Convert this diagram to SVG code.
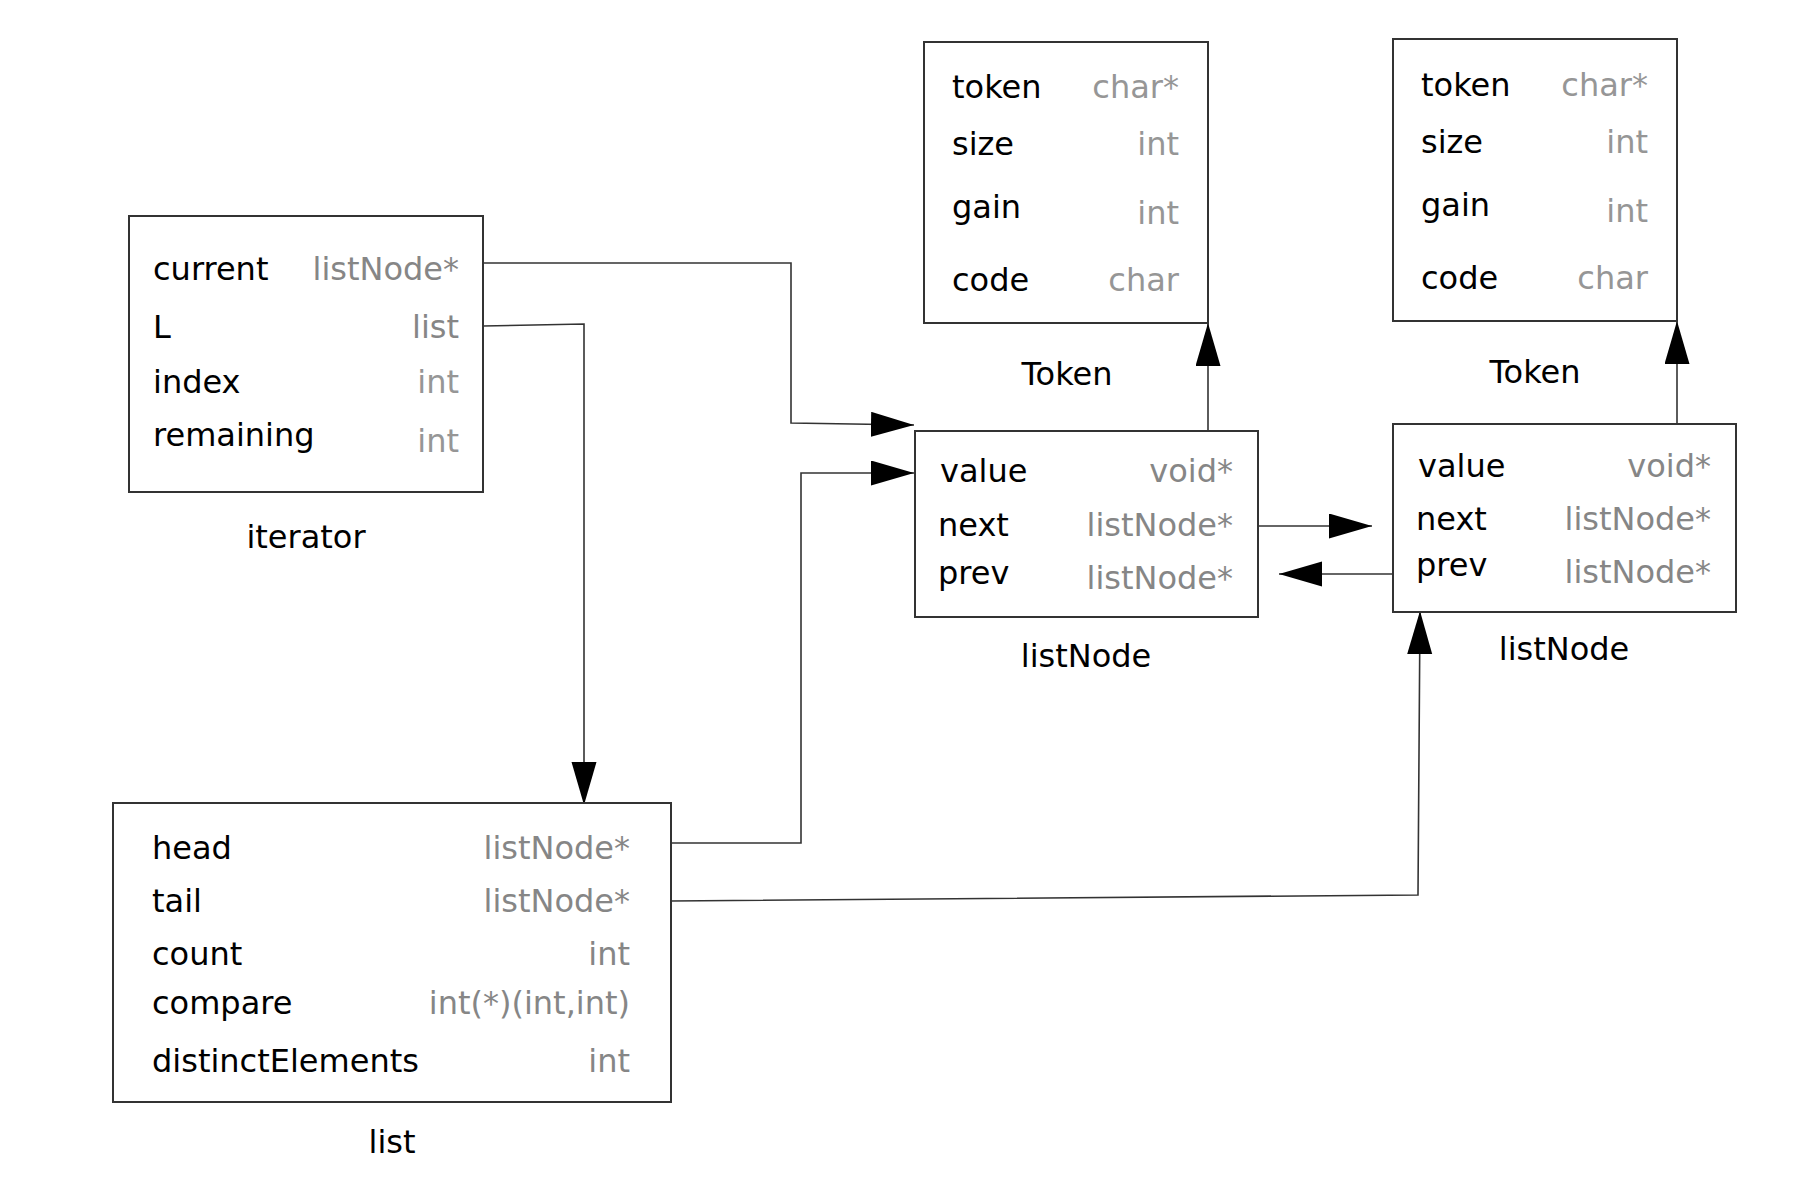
<svg xmlns="http://www.w3.org/2000/svg" width="1817" height="1177" viewBox="0 0 1817 1177">
<style>
text{font-family:"DejaVu Sans","Liberation Sans",sans-serif;font-size:32px}
.n{fill:#000}
.t{fill:#868686;text-anchor:end}
.tl{fill:#969696;text-anchor:end}
.lbl{fill:#000;text-anchor:middle}
.box{fill:#fff;stroke:#333;stroke-width:2}
.c{fill:none;stroke:#333;stroke-width:1.6}
</style>
<defs>
<marker id="ah" markerUnits="userSpaceOnUse" markerWidth="44" markerHeight="26" refX="43" refY="12.5" orient="auto">
<path d="M0,0 L43,12.5 L0,25 Z" fill="#000"/>
</marker>
</defs>
<rect width="1817" height="1177" fill="#fff"/>
<g id="connectors">
<path class="c" d="M483,263 H791 V423 L914,425" marker-end="url(#ah)"/>
<path class="c" d="M483,326 L584,324 V805" marker-end="url(#ah)"/>
<path class="c" d="M671,843 H801 V473 H914" marker-end="url(#ah)"/>
<path class="c" d="M671,901 L1418,895 L1420,611" marker-end="url(#ah)"/>
<path class="c" d="M1258,526 H1372" marker-end="url(#ah)"/>
<path class="c" d="M1393,574 H1279" marker-end="url(#ah)"/>
<path class="c" d="M1208,431 V323" marker-end="url(#ah)"/>
<path class="c" d="M1677,424 V321" marker-end="url(#ah)"/>
</g>
<g id="iterator">
<rect class="box" x="129" y="216" width="354" height="276"/>
<text class="n" x="153" y="280">current</text><text class="t" x="459" y="280">listNode*</text>
<text class="n" x="153" y="338">L</text><text class="t" x="459" y="338">list</text>
<text class="n" x="153" y="393">index</text><text class="tl" x="459" y="393">int</text>
<text class="n" x="153" y="446">remaining</text><text class="tl" x="459" y="452">int</text>
<text class="lbl" x="306" y="548">iterator</text>
</g>
<g id="token1">
<rect class="box" x="924" y="42" width="284" height="281"/>
<text class="n" x="952" y="98">token</text><text class="tl" x="1179" y="98">char*</text>
<text class="n" x="952" y="155">size</text><text class="tl" x="1179" y="155">int</text>
<text class="n" x="952" y="218">gain</text><text class="tl" x="1179" y="224">int</text>
<text class="n" x="952" y="291">code</text><text class="tl" x="1179" y="291">char</text>
<text class="lbl" x="1067" y="385">Token</text>
</g>
<g id="token2">
<rect class="box" x="1393" y="39" width="284" height="282"/>
<text class="n" x="1421" y="96">token</text><text class="tl" x="1648" y="96">char*</text>
<text class="n" x="1421" y="153">size</text><text class="tl" x="1648" y="153">int</text>
<text class="n" x="1421" y="216">gain</text><text class="tl" x="1648" y="222">int</text>
<text class="n" x="1421" y="289">code</text><text class="tl" x="1648" y="289">char</text>
<text class="lbl" x="1535" y="383">Token</text>
</g>
<g id="listNode1">
<rect class="box" x="915" y="431" width="343" height="186"/>
<text class="n" x="940" y="482">value</text><text class="t" x="1233" y="482">void*</text>
<text class="n" x="938" y="536">next</text><text class="t" x="1233" y="536">listNode*</text>
<text class="n" x="938" y="584">prev</text><text class="t" x="1233" y="589">listNode*</text>
<text class="lbl" x="1086" y="667">listNode</text>
</g>
<g id="listNode2">
<rect class="box" x="1393" y="424" width="343" height="188"/>
<text class="n" x="1418" y="477">value</text><text class="t" x="1711" y="477">void*</text>
<text class="n" x="1416" y="530">next</text><text class="t" x="1711" y="530">listNode*</text>
<text class="n" x="1416" y="576">prev</text><text class="t" x="1711" y="583">listNode*</text>
<text class="lbl" x="1564" y="660">listNode</text>
</g>
<g id="list">
<rect class="box" x="113" y="803" width="558" height="299"/>
<text class="n" x="152" y="859">head</text><text class="t" x="630" y="859">listNode*</text>
<text class="n" x="152" y="912">tail</text><text class="t" x="630" y="912">listNode*</text>
<text class="n" x="152" y="965">count</text><text class="t" x="630" y="965">int</text>
<text class="n" x="152" y="1014">compare</text><text class="t" x="630" y="1014">int(*)(int,int)</text>
<text class="n" x="152" y="1072">distinctElements</text><text class="t" x="630" y="1072">int</text>
<text class="lbl" x="392" y="1153">list</text>
</g>
</svg>
